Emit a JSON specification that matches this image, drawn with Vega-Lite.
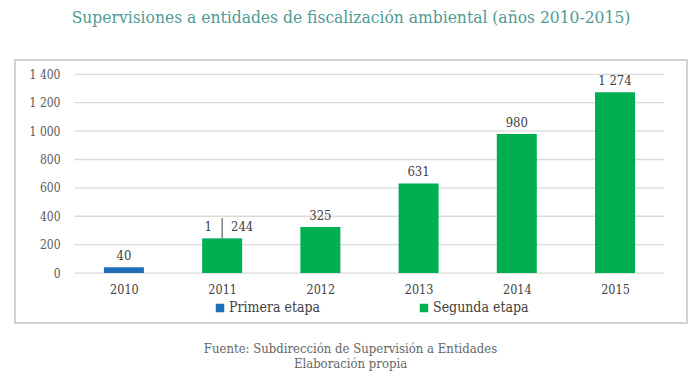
{
  "$schema": "https://vega.github.io/schema/vega-lite/v6.json",
  "width": 672,
  "height": 263,
  "autosize": "none",
  "padding": {"left": 15, "top": 60, "right": 13, "bottom": 57},
  "background": "white",
  "title": {
    "text": "Supervisiones a entidades de fiscalización ambiental (años 2010-2015)",
    "font": "DejaVu Serif Condensed",
    "fontSize": 17.3,
    "fontWeight": "normal",
    "color": "#4f9a95",
    "anchor": "middle",
    "frame": "group",
    "offset": 34
  },
  "datasets": {
    "bars": [
      {"year": 2010, "etapa": "Primera etapa", "value": 40},
      {"year": 2011, "etapa": "Primera etapa", "value": 1},
      {"year": 2011, "etapa": "Segunda etapa", "value": 244},
      {"year": 2012, "etapa": "Segunda etapa", "value": 325},
      {"year": 2013, "etapa": "Segunda etapa", "value": 631},
      {"year": 2014, "etapa": "Segunda etapa", "value": 980},
      {"year": 2015, "etapa": "Segunda etapa", "value": 1274}
    ],
    "grid": [
      {"v": 0}, {"v": 200}, {"v": 400}, {"v": 600},
      {"v": 800}, {"v": 1000}, {"v": 1200}, {"v": 1400}
    ]
  },
  "config": {
    "view": {"stroke": "#c4c4c4", "strokeWidth": 1.5},
    "font": "DejaVu Serif Condensed",
    "locale": {
      "number": {"decimal": ",", "thousands": " ", "grouping": [3], "currency": ["", " €"]}
    }
  },
  "resolve": {"axis": {"x": "independent", "y": "independent"}},
  "layer": [
    {
      "data": {"name": "grid"},
      "mark": {"type": "rule", "color": "#d9d9d9", "strokeWidth": 1.3},
      "encoding": {
        "y": {
          "field": "v",
          "type": "quantitative",
          "scale": {"domain": [-352, 1501], "nice": false, "zero": false},
          "axis": {
            "title": null,
            "values": [0, 200, 400, 600, 800, 1000, 1200, 1400],
            "format": ",d",
            "labelOverlap": false,
            "domain": false,
            "ticks": false,
            "tickSize": 0,
            "grid": false,
            "offset": -47,
            "labelPadding": 2,
            "labelFont": "DejaVu Serif Condensed",
            "labelFontSize": 12,
            "labelColor": "#595959"
          }
        },
        "x": {
          "datum": 2009.5,
          "type": "quantitative",
          "scale": {"domain": [2008.942, 2015.682], "nice": false, "zero": false},
          "axis": {
            "title": ["Fuente: Subdirección de Supervisión a Entidades", "Elaboración propia"],
            "titleFont": "DejaVu Serif Condensed",
            "titleFontSize": 13,
            "titleFontWeight": "normal",
            "titleColor": "#666666",
            "titleX": 335,
            "titleY": 69,
            "titleAlign": "center",
            "titleBaseline": "top",
            "titleLineHeight": 15,
            "values": [2010, 2011, 2012, 2013, 2014, 2015],
            "format": "d",
            "labelOverlap": false,
            "domain": false,
            "ticks": false,
            "tickSize": 0,
            "grid": false,
            "offset": -50,
            "labelPadding": 10,
            "labelFont": "DejaVu Serif Condensed",
            "labelFontSize": 12.5,
            "labelColor": "#404040"
          }
        },
        "x2": {"datum": 2015.5}
      }
    },
    {
      "data": {"name": "bars"},
      "mark": {"type": "bar", "size": 40},
      "encoding": {
        "x": {"field": "year", "type": "quantitative", "axis": null},
        "y": {"field": "value", "type": "quantitative", "stack": "zero", "axis": null},
        "color": {
          "field": "etapa",
          "type": "nominal",
          "scale": {"domain": ["Primera etapa", "Segunda etapa"], "range": ["#1f6fb8", "#00b050"]},
          "legend": {
            "title": null,
            "orient": "none",
            "legendX": 198,
            "legendY": 241,
            "direction": "horizontal",
            "symbolType": "square",
            "symbolSize": 72,
            "symbolStrokeWidth": 0,
            "labelFont": "DejaVu Serif Condensed",
            "labelFontSize": 14,
            "labelColor": "#404040",
            "labelOffset": 2,
            "columnPadding": 96,
            "padding": 0
          }
        }
      }
    },
    {
      "data": {"name": "bars"},
      "transform": [{"filter": "datum.year != 2011"}],
      "mark": {"type": "text", "baseline": "bottom", "dy": -4, "fontSize": 13, "color": "#404040", "font": "DejaVu Serif Condensed"},
      "encoding": {
        "x": {"field": "year", "type": "quantitative", "axis": null},
        "y": {"field": "value", "type": "quantitative", "axis": null},
        "text": {"field": "value", "type": "quantitative", "format": ",d"}
      }
    },
    {
      "data": {"name": "bars"},
      "transform": [
        {"filter": "datum.year == 2011"},
        {"joinaggregate": [{"op": "max", "field": "value", "as": "top"}], "groupby": ["year"]},
        {"filter": "datum.etapa == 'Primera etapa'"}
      ],
      "mark": {"type": "text", "baseline": "bottom", "dy": -4, "dx": -14, "fontSize": 13, "color": "#404040", "font": "DejaVu Serif Condensed"},
      "encoding": {
        "x": {"field": "year", "type": "quantitative", "axis": null},
        "y": {"field": "top", "type": "quantitative", "axis": null},
        "text": {"field": "value", "type": "quantitative", "format": ",d"}
      }
    },
    {
      "data": {"name": "bars"},
      "transform": [{"filter": "datum.year == 2011 && datum.etapa == 'Segunda etapa'"}],
      "mark": {"type": "text", "baseline": "bottom", "dy": -4, "dx": 20, "fontSize": 13, "color": "#404040", "font": "DejaVu Serif Condensed"},
      "encoding": {
        "x": {"field": "year", "type": "quantitative", "axis": null},
        "y": {"field": "value", "type": "quantitative", "axis": null},
        "text": {"field": "value", "type": "quantitative", "format": ",d"}
      }
    },
    {
      "data": {"name": "bars"},
      "transform": [{"filter": "datum.year == 2011 && datum.etapa == 'Segunda etapa'"}],
      "mark": {"type": "rule", "color": "#404040", "strokeWidth": 1},
      "encoding": {
        "x": {"field": "year", "type": "quantitative", "axis": null},
        "y": {"field": "value", "type": "quantitative", "axis": null},
        "y2": {"datum": 388}
      }
    }
  ]
}
